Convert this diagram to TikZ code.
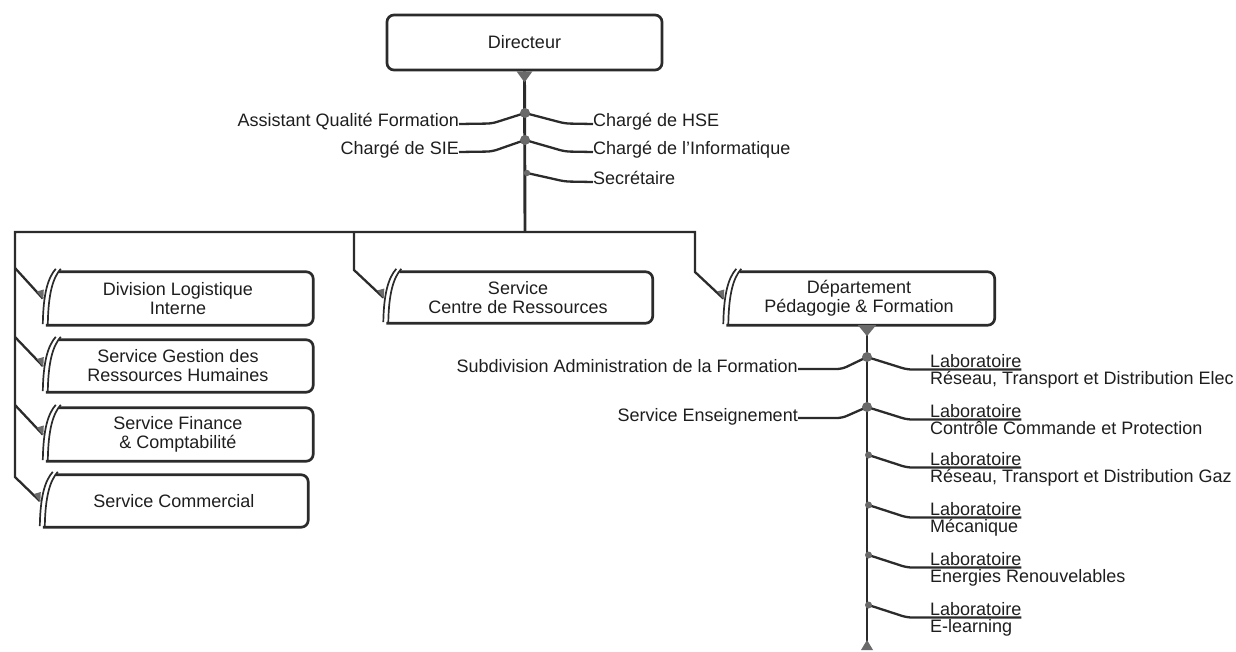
\documentclass[tikz,border=0pt]{standalone}
\usepackage{fontspec}
\setmainfont{Liberation Sans}
\usetikzlibrary{calc}
\definecolor{ink}{HTML}{2B2B2B}
\definecolor{txt}{HTML}{1E1E1E}
\definecolor{knot}{HTML}{6A6A6A}
\tikzset{
  conn/.style={draw=ink, line width=2.3pt, line join=round},
  trunk/.style={draw=ink, line width=2.9pt},
  boxline/.style={draw=ink, line width=2.7pt},
  curveline/.style={draw=ink, line width=1.7pt},
  lbl/.style={inner sep=0pt, text=txt, font=\fontsize{18}{19}\selectfont},
  boxarea/.style={inner sep=0pt, text=txt, align=center, font=\fontsize{18}{19}\selectfont},
  knotfill/.style={fill=knot, draw=none},
}
\newcommand\orgshape[1]{%
  \draw[boxline, rounded corners=7pt] ([xshift=16pt]#1.north west) -| (#1.south east) -- ([xshift=3pt]#1.south west);
  \draw[curveline] ([yshift=1pt]#1.south west) .. controls ([xshift=0.5pt,yshift=-22pt]#1.north west) and ([xshift=5pt,yshift=-6pt]#1.north west) .. ([xshift=13pt,yshift=3pt]#1.north west);
  \draw[curveline] ([xshift=5pt,yshift=1pt]#1.south west) .. controls ([xshift=5.5pt,yshift=-22pt]#1.north west) and ([xshift=10pt,yshift=-6pt]#1.north west) .. ([xshift=18pt,yshift=3pt]#1.north west);
  \fill[knotfill] ([xshift=-6pt,yshift=7pt]#1.west) -- ([xshift=0.5pt,yshift=-1pt]#1.west) -- ([xshift=1pt,yshift=9pt]#1.west) -- cycle;
}
\begin{document}
\begin{tikzpicture}[x=1pt,y=-1pt]
\useasboundingbox (0,0) rectangle (1236,651);

% ---------- Directeur ----------
\node[draw=ink, line width=2.7pt, rounded corners=7pt, minimum width=275pt, minimum height=55pt,
      inner sep=0pt, text=txt, font=\fontsize{18}{19}\selectfont] (dir) at (524.5,42.5) {Directeur};

\coordinate (d1) at (525,113);
\coordinate (d2) at (525,140);
\coordinate (d3) at (527,173);
\coordinate (bj) at (525,232);
\coordinate (bL) at (15,232);
\coordinate (bR) at (695,232);
\coordinate (bS) at (354,232);

\draw[trunk] (dir.south) -- (bj);
\fill[knotfill] ([xshift=-8pt]dir.south) -- ([xshift=8pt]dir.south) -- ([yshift=-11pt]dir.south) -- cycle;

\node[lbl, anchor=base east] (aq) at (459,126) {Assistant Qualité Formation};
\node[lbl, anchor=base east] (sie) at (459,154) {Chargé de SIE};
\node[lbl, anchor=base west] (hse) at (593,126) {Chargé de HSE};
\node[lbl, anchor=base west] (info) at (593,154) {Chargé de l’Informatique};
\node[lbl, anchor=base west] (sec) at (593,184) {Secrétaire};

\draw[conn, rounded corners=5pt] (d1) -- (492,123.5) -- ([yshift=2pt]aq.base east);
\draw[conn, rounded corners=5pt] (d1) -- (565,123.5) -- ([yshift=2pt]hse.base west);
\draw[conn, rounded corners=5pt] (d2) -- (492,151.5) -- ([yshift=2pt]sie.base east);
\draw[conn, rounded corners=5pt] (d2) -- (565,151.5) -- ([yshift=2pt]info.base west);
\draw[conn, rounded corners=5pt] (d3) -- (565,181.5) -- ([yshift=2pt]sec.base west);

\fill[knotfill] (d1) circle (5pt);
\fill[knotfill] (d2) circle (5pt);
\fill[knotfill] (d3) circle (3.2pt);

% ---------- boxes ----------
\node[boxarea, minimum width=270pt, minimum height=53pt] (div) at (178,298.5) {Division Logistique\\Interne};
\node[boxarea, minimum width=270pt, minimum height=52pt] (grh) at (178,366) {Service Gestion des\\Ressources Humaines};
\node[boxarea, minimum width=270pt, minimum height=53pt] (fin) at (178,434.5) {Service Finance\\\& Comptabilité};
\node[boxarea, minimum width=268pt, minimum height=52pt] (com) at (174,501) {Service Commercial};
\node[boxarea, minimum width=269pt, minimum height=51pt] (src) at (518,297.5) {Service\\Centre de Ressources};
\node[boxarea, minimum width=271pt, minimum height=53pt] (dept) at (859,298.5) {Département\\Pédagogie \& Formation};

% ---------- connectors to boxes ----------
\draw[conn, line join=miter] (com.west) -- (15,477) -- (bL) -- (bR) -- (695,272) -- (dept.west);
\draw[conn, line join=miter] (bS) -- (354,270) -- (src.west);
\draw[conn] (15,268) -- (div.west);
\draw[conn] (15,337) -- (grh.west);
\draw[conn] (15,405) -- (fin.west);

\orgshape{div}
\orgshape{grh}
\orgshape{fin}
\orgshape{com}
\orgshape{src}
\orgshape{dept}

% ---------- Departement trunk ----------
\coordinate (dend) at (867,648);
\coordinate (e1) at (867,357);
\coordinate (e2) at (867,407);
\coordinate (e3) at (868.5,455);
\coordinate (e4) at (868.5,505);
\coordinate (e5) at (868.5,555);
\coordinate (e6) at (868.5,605);

\draw[trunk] (dept.south -| dend) -- (dend);
\fill[knotfill] (dept.south -| dend) ++(-9,0) -- ++(18,0) -- ++(-9,11) -- cycle;
\fill[knotfill] (dend) ++(0,-8) -- ++(6,10) -- ++(-12,0) -- cycle;

\node[lbl, anchor=base east] (sub) at (798,372) {Subdivision Administration de la Formation};
\node[lbl, anchor=base east] (ens) at (798,421) {Service Enseignement};
\draw[conn, rounded corners=5pt] (e1) -- (842,369) -- ([yshift=3pt]sub.base east);
\draw[conn, rounded corners=5pt] (e2) -- (842,418) -- ([yshift=3pt]ens.base east);

\foreach \i/\y/\t in {1/357/{Réseau, Transport et Distribution Elec},
                      2/407/{Contrôle Commande et Protection},
                      3/455/{Réseau, Transport et Distribution Gaz},
                      4/505/{Mécanique},
                      5/555/{Energies Renouvelables},
                      6/605/{E-learning}}{
  \node[lbl, anchor=base west] (lab\i) at (930,\y+10.5) {Laboratoire};
  \node[lbl, anchor=base west] (labb\i) at (930,\y+27) {\t};
  \draw[conn, rounded corners=5pt] (e\i) -- (907,\y+12.5) -- ([yshift=-2pt]lab\i.base east);
}

\fill[knotfill] (e1) circle (5pt);
\fill[knotfill] (e2) circle (5pt);
\foreach \i in {3,4,5,6}{\fill[knotfill] (e\i) circle (3.5pt);}
\end{tikzpicture}
\end{document}
